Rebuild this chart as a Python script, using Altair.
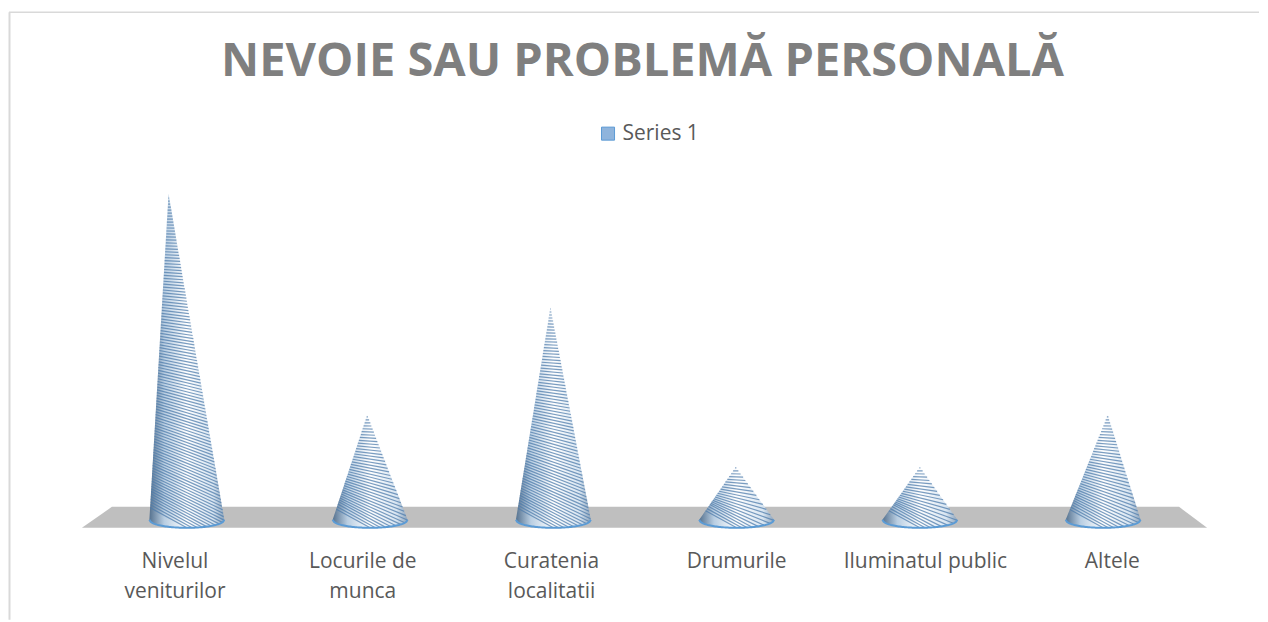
import altair as alt
import numpy as np
import pandas as pd

categories = ["Nivelul veniturilor", "Locurile de munca", "Curatenia localitatii",
              "Drumurile", "Iluminatul public", "Altele"]
values = [6.05, 1.95, 3.95, 0.98, 0.98, 1.95]
# Apex lean of each cone (perspective), in category units
lean = [-0.10, -0.016, -0.016, -0.005, 0.0, 0.025]
label_lines = ["Nivelul\nveniturilor", "Locurile de\nmunca", "Curatenia\nlocalitatii",
               "Drumurile", "Iluminatul public", "Altele"]
label_pos = [-0.065, 0.96, 1.99, 3.0, 4.03, 5.05]

X_UNIT, Y_UNIT = 183.4, 54.0   # plot pixels per data unit
A, B = 37.5, 8.0               # base half-width and half-height
PLOT_W, PLOT_H = 1126, 358
X_DOM = [-105 / X_UNIT, 1021 / X_UNIT]
Y_DOM = [-8 / Y_UNIT, 350 / Y_UNIT]

floor = pd.DataFrame({
    "x": [X_DOM[0], -75 / X_UNIT, 993 / X_UNIT, X_DOM[1]],
    "top": [Y_DOM[0], 13 / Y_UNIT, 13 / Y_UNIT, Y_DOM[0]],
    "bottom": [Y_DOM[0]] * 4,
})

area_rows, stripe_rows = [], []
for i, (v, ln) in enumerate(zip(values, lean)):
    H, L = v * Y_UNIT, ln * X_UNIT
    xs = np.sort(np.append(np.linspace(-A, A, 61), L))
    for x in xs:
        top = H * (x + A) / (L + A) if x <= L else H * (A - x) / (A - L)
        bot = -B * np.sqrt(max(0, 1 - (x / A) ** 2))
        area_rows.append({"cone": i, "x": i + x / X_UNIT, "top": top / Y_UNIT, "bottom": bot / Y_UNIT})
    for h in np.arange(-B, H, 3.0):
        f = max(h, 0) / H
        s = 0.55 * (1 - f) ** 1.5
        xc = L * f
        sx = np.linspace(-A, A, 301)
        sy = h - s * (sx - xc)
        left = np.where(sy >= 0, -A + (L + A) * sy / H, -A * np.sqrt(np.clip(1 - (sy / B) ** 2, 0, 1)))
        right = np.where(sy >= 0, A + (L - A) * sy / H, A * np.sqrt(np.clip(1 - (sy / B) ** 2, 0, 1)))
        keep = (sx >= left) & (sx <= right) & (sy >= -B) & (sy <= H)
        if keep.sum() < 2:
            continue
        idx = np.where(keep)[0]
        a, b = idx[0], idx[-1]
        stripe_rows.append({"cone": i, "x": i + sx[a] / X_UNIT, "x2": i + sx[b] / X_UNIT,
                            "y": sy[a] / Y_UNIT, "y2": sy[b] / Y_UNIT})

cones = pd.DataFrame(area_rows)
stripes = pd.DataFrame(stripe_rows)
labels = pd.DataFrame({"x": label_pos, "y": [-31 / Y_UNIT] * 6, "text": label_lines})
legend_df = pd.DataFrame({"series": ["Series 1"], "x": [0.0], "y": [0.0]})

xs = alt.Scale(domain=X_DOM, nice=False, zero=False)
ys = alt.Scale(domain=Y_DOM, nice=False, zero=False)
X = alt.X("x:Q", scale=xs, axis=None)
Y = alt.Y("y:Q", scale=ys, axis=None)

floor_layer = alt.Chart(floor).mark_area(color="#BFBFBF", interpolate="linear").encode(
    x=alt.X("x:Q", scale=xs, axis=None),
    y=alt.Y("top:Q", scale=ys, axis=None, stack=None),
    y2="bottom:Q",
)
grad = alt.Gradient(
    gradient="linear", x1=0, x2=1, y1=0, y2=0,
    stops=[
        alt.GradientStop(offset=0, color="#56728F"),
        alt.GradientStop(offset=0.2, color="#B9CEE2"),
        alt.GradientStop(offset=0.5, color="#FFFFFF"),
        alt.GradientStop(offset=0.85, color="#D8E5F1"),
        alt.GradientStop(offset=1, color="#8DA4BC"),
    ],
)
cone_layer = alt.Chart(cones).mark_area(fill=grad, interpolate="linear").encode(
    x=alt.X("x:Q", scale=xs, axis=None),
    y=alt.Y("top:Q", scale=ys, axis=None, stack=None),
    y2="bottom:Q",
    detail="cone:N",
)
stripe_layer = alt.Chart(stripes).mark_rule(color="#4F7CAB", strokeWidth=1.2, opacity=0.75).encode(
    x=alt.X("x:Q", scale=xs, axis=None), x2="x2:Q",
    y=alt.Y("y:Q", scale=ys, axis=None), y2="y2:Q",
)
base_layer = alt.Chart(cones).mark_line(color="#5B9BD5", strokeWidth=2).encode(
    x=alt.X("x:Q", scale=xs, axis=None),
    y=alt.Y("bottom:Q", scale=ys, axis=None),
    detail="cone:N",
)
text_layer = alt.Chart(labels).mark_text(
    font="Open Sans", fontSize=21, color="#595959", baseline="top", align="center",
    lineBreak="\n", lineHeight=30,
).encode(
    x=alt.X("x:Q", scale=xs, axis=None),
    y=alt.Y("y:Q", scale=ys, axis=None),
    text="text:N",
)
legend_layer = alt.Chart(legend_df).mark_square(size=0, opacity=1).encode(
    x=X, y=Y,
    color=alt.Color("series:N", scale=alt.Scale(domain=["Series 1"], range=["#8FB4DC"]),
                    legend=alt.Legend(
                        title=None, orient="none", legendX=516, legendY=-47,
                        labelFont="Open Sans", labelFontSize=21, labelColor="#595959",
                        symbolType="square", symbolSize=170, symbolStrokeWidth=1,
                        symbolStrokeColor="#5B9BD5", symbolOpacity=1,
                    )),
)
frame_top = alt.Chart(legend_df).mark_rule(color="#D9D9D9", strokeWidth=1.5).encode(
    x=alt.value(-73), x2=alt.value(1178), y=alt.value(-158))
frame_left = alt.Chart(legend_df).mark_rule(color="#D9D9D9", strokeWidth=2).encode(
    y=alt.value(-158), y2=alt.value(450), x=alt.value(-72.5))

chart = alt.layer(
    frame_top, frame_left, floor_layer, cone_layer, stripe_layer, base_layer, text_layer, legend_layer
).properties(
    width=PLOT_W, height=PLOT_H,
    title=alt.TitleParams(
        "NEVOIE SAU PROBLEMĂ PERSONALĂ", font="Open Sans", fontSize=47, fontWeight="bold",
        color="#7F7F7F", anchor="middle", baseline="alphabetic", offset=-112, dx=-2,
    ),
    padding={"left": 0, "top": 3, "right": 0, "bottom": 0},
    background="white",
).configure_view(stroke=None)

chart.save("out.html", embed_options={"renderer": "svg", "actions": False})
